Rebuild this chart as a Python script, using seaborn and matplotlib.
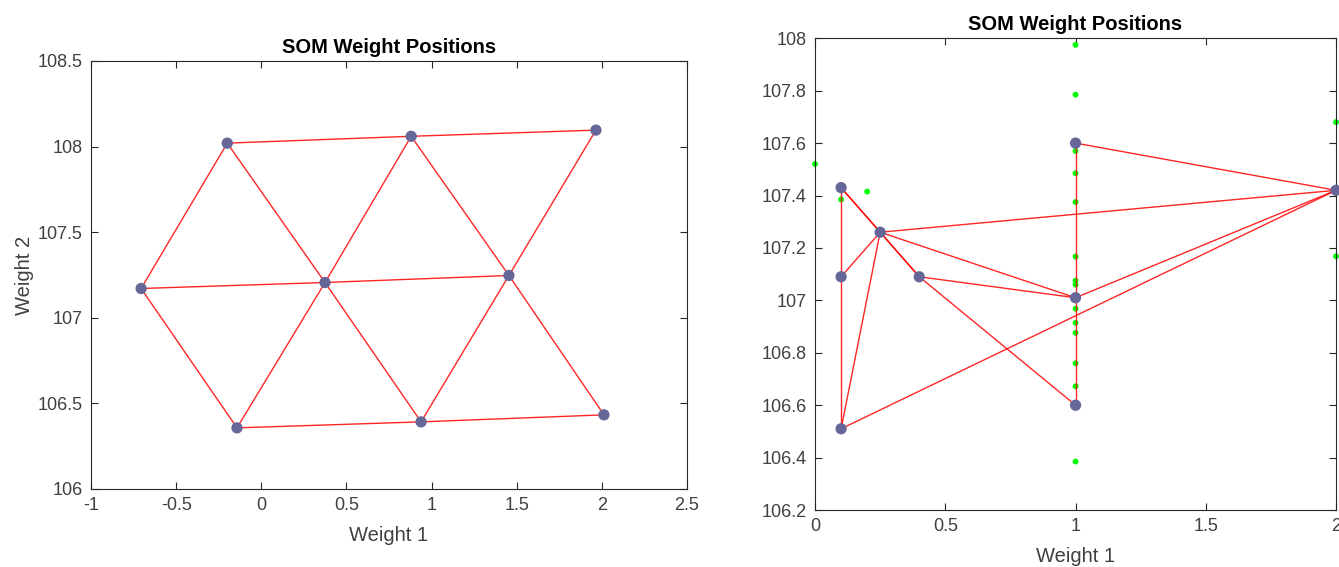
import pandas as pd
import matplotlib
matplotlib.use("Agg")
import matplotlib.pyplot as plt
import seaborn as sns
from matplotlib.ticker import FormatStrFormatter, MultipleLocator

# left SOM: 3x3 hex grid, rows listed top, middle, bottom
left_w1 = [-0.20, 0.88, 1.965, -0.706, 0.374, 1.454, -0.143, 0.938, 2.012]
left_w2 = [108.02, 108.06, 108.096, 107.171, 107.206, 107.247, 106.357, 106.392, 106.433]

# right SOM: same node order
right_w1 = [0.1, 2.0, 1.0, 0.1, 0.25, 1.0, 0.1, 0.4, 1.0]
right_w2 = [106.51, 107.42, 107.60, 107.09, 107.26, 107.01, 107.43, 107.09, 106.60]

# input samples shown on right
input_w1 = [0, 0.1, 0.1, 0.2, 1, 1, 1, 1, 1, 1, 1, 1, 1, 1, 1, 1, 1, 1, 2, 2]
input_w2 = [107.52, 107.44, 107.385, 107.415, 107.975, 107.785, 107.57, 107.485,
            107.375, 107.167, 107.075, 107.06, 106.968, 106.914, 106.876, 106.76,
            106.672, 106.385, 107.68, 107.168]

# neighbour links of the hex topology
edges = [(0, 1), (1, 2), (3, 4), (4, 5), (6, 7), (7, 8),
         (0, 3), (0, 4), (1, 4), (1, 5), (2, 5),
         (3, 6), (4, 6), (4, 7), (5, 7), (5, 8)]

TEXT = "#404040"
AX = "#262626"


def edge_frame(w1, w2):
    rows = []
    for k, (a, b) in enumerate(edges):
        rows.append({"edge": k, "order": 0, "w1": w1[a], "w2": w2[a]})
        rows.append({"edge": k, "order": 1, "w1": w1[b], "w2": w2[b]})
    return pd.DataFrame(rows)


def draw_som(ax, w1, w2):
    sns.lineplot(data=edge_frame(w1, w2), x="w1", y="w2", units="edge",
                 estimator=None, sort=False, color="red", lw=1.0, alpha=0.85,
                 ax=ax, zorder=3, legend=False)
    nodes = pd.DataFrame({"w1": w1, "w2": w2})
    sns.scatterplot(data=nodes, x="w1", y="w2", color="#666699", s=66,
                    edgecolor="none", ax=ax, zorder=4, clip_on=False)


def style(ax, ylabel=True):
    ax.set_title("SOM Weight Positions", fontsize=14.5, fontweight="bold",
                 color="black", pad=6)
    ax.set_xlabel("Weight 1", fontsize=14.5, color=TEXT, labelpad=8.5)
    ax.set_ylabel("Weight 2" if ylabel else "", fontsize=14.5, color=TEXT, labelpad=2.5)
    ax.tick_params(direction="in", length=5, width=0.8, colors=AX,
                   labelcolor=TEXT, labelsize=13, bottom=True, left=True,
                   top=True, right=True, pad=6)
    ax.xaxis.set_major_formatter(FormatStrFormatter("%g"))
    ax.yaxis.set_major_formatter(FormatStrFormatter("%g"))
    for sp in ax.spines.values():
        sp.set_color(AX)
        sp.set_linewidth(0.8)


sns.set_style("white")
plt.rcParams["font.family"] = ["Liberation Sans", "DejaVu Sans"]
plt.rcParams["axes.unicode_minus"] = False

fig = plt.figure(figsize=(13.39, 5.67), dpi=100)
ax1 = fig.add_axes([0.0680, 0.1376, 0.4451, 0.7549])
ax2 = fig.add_axes([0.6087, 0.1005, 0.3891, 0.8320])

draw_som(ax1, left_w1, left_w2)
ax1.set_xlim(-1, 2.5)
ax1.set_ylim(106, 108.5)
ax1.xaxis.set_major_locator(MultipleLocator(0.5))
ax1.yaxis.set_major_locator(MultipleLocator(0.5))
style(ax1)

inputs = pd.DataFrame({"w1": input_w1, "w2": input_w2})
sns.scatterplot(data=inputs, x="w1", y="w2", color="#00ff00", s=18,
                edgecolor="none", ax=ax2, zorder=2, clip_on=False)
draw_som(ax2, right_w1, right_w2)
ax2.set_xlim(0, 2)
ax2.set_ylim(106.2, 108)
ax2.xaxis.set_major_locator(MultipleLocator(0.5))
ax2.yaxis.set_major_locator(MultipleLocator(0.2))
style(ax2, ylabel=False)

fig.savefig("out.png", dpi=100)
